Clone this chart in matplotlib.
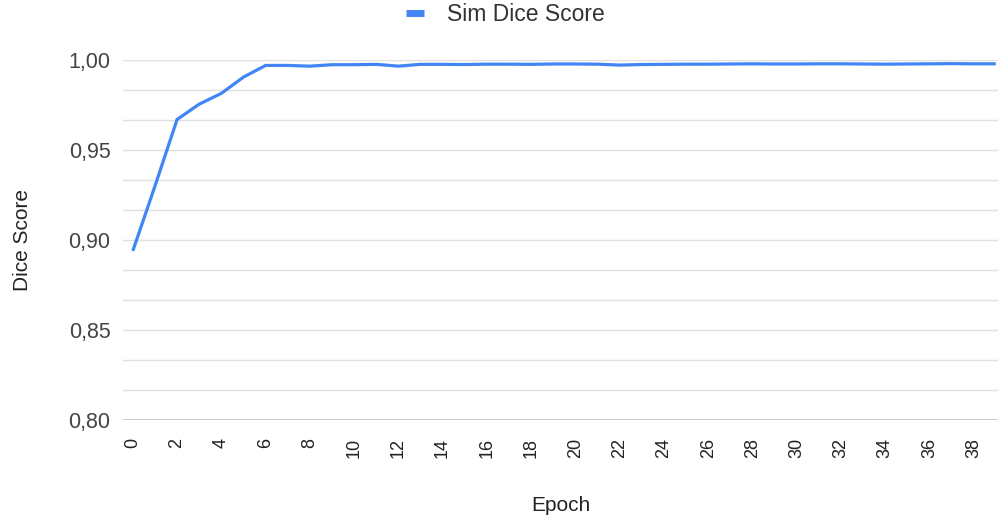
import matplotlib.pyplot as plt
from matplotlib.ticker import MultipleLocator, FuncFormatter

epochs = list(range(40))
dice = [0.894, 0.930, 0.967, 0.9755, 0.9815, 0.9905, 0.9970, 0.9970, 0.9966, 0.9974,
        0.9974, 0.9976, 0.9966, 0.9976, 0.9976, 0.9975, 0.9977, 0.9977, 0.9976, 0.9978,
        0.9978, 0.9977, 0.9972, 0.9975, 0.9976, 0.9977, 0.9977, 0.9978, 0.9979, 0.9978,
        0.9978, 0.9979, 0.9979, 0.9978, 0.9977, 0.9978, 0.9979, 0.9980, 0.9979, 0.9979]

plt.rcParams['font.family'] = ['Liberation Sans', 'DejaVu Sans']

fig = plt.figure(figsize=(9.99, 5.22), dpi=100)
ax = fig.add_axes([0.123, 0.195, 0.876, 0.69])

ax.plot(epochs, dice, color='#4285f4', lw=2.3, label='Sim Dice Score', solid_capstyle='butt')

ax.set_xlim(-0.45, 39.1)
ax.set_ylim(0.80, 1.00)
ax.yaxis.set_major_locator(MultipleLocator(0.05))
ax.yaxis.set_minor_locator(MultipleLocator(0.05 / 3))
ax.yaxis.set_major_formatter(FuncFormatter(lambda v, p: f"{v:.2f}".replace('.', ',')))
ax.set_xticks(range(0, 40, 2))

ax.grid(axis='y', which='both', color='#e0e0e0', lw=1)
ax.set_axisbelow(True)
for s in ax.spines.values():
    s.set_visible(False)
ax.axhline(0.80, color='#c6c6c6', lw=1.2, zorder=1)

ax.tick_params(axis='y', which='both', length=0, pad=9, labelsize=15.5, labelcolor='#444444')
ax.tick_params(axis='x', length=0, pad=13, labelsize=13, labelcolor='#222222', labelrotation=90)

ax.set_xlabel('Epoch', fontsize=15, color='#222222', labelpad=27)
ax.set_ylabel('Dice Score', fontsize=15, color='#222222', labelpad=26)

ax.legend(loc='center', bbox_to_anchor=(0.506, 0.972), bbox_transform=fig.transFigure,
          frameon=False, fontsize=16.5, handlelength=0.8, handletextpad=1.0,
          labelcolor='#333333', borderpad=0)
leg = ax.get_legend()
for h in leg.get_lines():
    h.set_linewidth(5)

fig.savefig('out.png', dpi=100)
